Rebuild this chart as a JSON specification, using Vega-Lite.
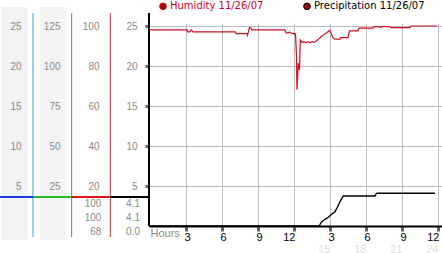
{
  "$schema": "https://vega.github.io/schema/vega-lite/v6.json",
  "autosize": {"type": "none"},
  "padding": {"left": 149, "top": 23, "right": 0, "bottom": 27},
  "width": 293,
  "height": 203,
  "config": {
    "view": {"stroke": null},
    "font": "Liberation Sans",
    "axis": {"labelFont": "Liberation Sans", "labelFontSize": 10, "labelColor": "#8a8a8a", "titleFont": "Liberation Sans"}
  },
  "datasets": {
    "humidity": [
      {"hour": 0, "rh": 98.1}, {"hour": 3.17, "rh": 98.1}, {"hour": 3.25, "rh": 97.1}, {"hour": 3.42, "rh": 97.1},
      {"hour": 3.54, "rh": 98.0}, {"hour": 3.67, "rh": 97.1}, {"hour": 7.17, "rh": 97.1}, {"hour": 7.25, "rh": 96.2},
      {"hour": 8.17, "rh": 96.2}, {"hour": 8.21, "rh": 95.4}, {"hour": 8.375, "rh": 99.2}, {"hour": 8.5, "rh": 99.0},
      {"hour": 8.58, "rh": 98.1}, {"hour": 11.31, "rh": 98.1}, {"hour": 11.42, "rh": 96.7}, {"hour": 11.58, "rh": 96.5},
      {"hour": 11.71, "rh": 97.0}, {"hour": 11.83, "rh": 96.5}, {"hour": 12.0, "rh": 96.2}, {"hour": 12.21, "rh": 96.2},
      {"hour": 12.29, "rh": 85.0}, {"hour": 12.33, "rh": 68.2}, {"hour": 12.39, "rh": 75.0}, {"hour": 12.44, "rh": 81.5},
      {"hour": 12.54, "rh": 78.0}, {"hour": 12.61, "rh": 93.0}, {"hour": 12.75, "rh": 91.8}, {"hour": 12.92, "rh": 92.2},
      {"hour": 13.08, "rh": 91.6}, {"hour": 13.25, "rh": 92.2}, {"hour": 13.42, "rh": 91.6}, {"hour": 13.58, "rh": 92.2},
      {"hour": 13.75, "rh": 91.8}, {"hour": 13.92, "rh": 92.4}, {"hour": 14.08, "rh": 93.2}, {"hour": 14.33, "rh": 94.5},
      {"hour": 14.58, "rh": 95.8}, {"hour": 14.83, "rh": 96.8}, {"hour": 15.04, "rh": 97.8}, {"hour": 15.17, "rh": 96.6},
      {"hour": 15.33, "rh": 94.2}, {"hour": 15.5, "rh": 93.4}, {"hour": 15.92, "rh": 93.4}, {"hour": 16.0, "rh": 94.2},
      {"hour": 16.58, "rh": 94.2}, {"hour": 16.71, "rh": 97.6}, {"hour": 17.42, "rh": 97.6}, {"hour": 17.5, "rh": 98.9},
      {"hour": 18.67, "rh": 98.9}, {"hour": 18.75, "rh": 99.7}, {"hour": 19.17, "rh": 99.7}, {"hour": 19.29, "rh": 99.2},
      {"hour": 19.42, "rh": 99.7}, {"hour": 20.08, "rh": 99.7}, {"hour": 20.17, "rh": 99.2}, {"hour": 21.75, "rh": 99.2},
      {"hour": 21.83, "rh": 100}, {"hour": 24.0, "rh": 100}
    ],
    "precip": [
      {"hour": 0, "mm": 0}, {"hour": 14.17, "mm": 0}, {"hour": 14.39, "mm": 0.54}, {"hour": 14.67, "mm": 0.84},
      {"hour": 14.94, "mm": 1.09}, {"hour": 15.22, "mm": 1.46}, {"hour": 15.5, "mm": 1.79}, {"hour": 15.72, "mm": 2.41},
      {"hour": 15.92, "mm": 3.04}, {"hour": 16.19, "mm": 3.75}, {"hour": 18.83, "mm": 3.75}, {"hour": 18.97, "mm": 4.1},
      {"hour": 23.83, "mm": 4.1}
    ],
    "cols": [
      {"col": 1, "series": "col1"}, {"col": 2, "series": "col2"},
      {"col": 3, "series": "Humidity"}, {"col": 4, "series": "Precipitation"}
    ],
    "summary": [
      {"col": 3, "lines": ["100", "100", "68"]},
      {"col": 4, "lines": ["4.1", "4.1", "0.0"]}
    ]
  },
  "resolve": {"scale": {"x": "independent", "y": "independent", "stroke": "independent"}},
  "layer": [
    {
      "data": {"name": "cols"},
      "transform": [{"filter": "datum.col <= 2"}],
      "mark": {"type": "rect", "color": "#f3f3f3", "xOffset": -31.5, "x2Offset": -5.5},
      "encoding": {
        "x": {"field": "col", "type": "quantitative", "scale": {"domain": [4, 11.577], "nice": false, "zero": false}, "axis": null},
        "x2": {"field": "col"},
        "y": {"datum": -1.75, "type": "quantitative", "scale": {"domain": [0, 25.375], "nice": false, "zero": false},
          "axis": {"orient": "left", "offset": 116, "values": [5, 10, 15, 20, 25], "domain": false, "ticks": false, "tickSize": 0, "labelPadding": 12, "grid": false, "title": null, "zindex": 1}},
        "y2": {"datum": 27.375}
      }
    },
    {
      "data": {"name": "cols"},
      "transform": [{"filter": "datum.col <= 3"}],
      "mark": {"type": "rule", "strokeWidth": 1},
      "encoding": {
        "x": {"field": "col", "type": "quantitative", "scale": {"domain": [4, 11.577], "nice": false, "zero": false}, "axis": null},
        "y": {"datum": -1.375, "type": "quantitative", "scale": {"domain": [0, 25.375], "nice": false, "zero": false},
          "axis": {"orient": "left", "offset": 77, "values": [5, 10, 15, 20, 25], "labelExpr": "datum.value * 5", "domain": false, "ticks": false, "tickSize": 0, "labelPadding": 12, "grid": false, "title": null, "zindex": 1}},
        "y2": {"datum": 26.625},
        "stroke": {"field": "series", "type": "nominal", "scale": {"domain": ["col1", "col2", "Humidity"], "range": ["#3c9fd2", "#2fa82f", "#c23636"]}, "legend": null}
      }
    },
    {
      "data": {"name": "cols"},
      "transform": [{"filter": "datum.col == 4"}],
      "mark": {"type": "rule", "strokeWidth": 2, "color": "#000000"},
      "encoding": {
        "x": {"field": "col", "type": "quantitative", "scale": {"domain": [4, 11.577], "nice": false, "zero": false}, "axis": null},
        "y": {"datum": 0, "type": "quantitative", "scale": {"domain": [0, 25.375], "nice": false, "zero": false}, "axis": null},
        "y2": {"datum": 26.625}
      }
    },
    {
      "data": {"name": "cols"},
      "mark": {"type": "rule", "strokeWidth": 2, "xOffset": -38.67, "x2Offset": 0},
      "encoding": {
        "x": {"field": "col", "type": "quantitative", "scale": {"domain": [4, 11.577], "nice": false, "zero": false}, "axis": null},
        "x2": {"field": "col"},
        "y": {"datum": 3.625, "type": "quantitative", "scale": {"domain": [0, 25.375], "nice": false, "zero": false}, "axis": null},
        "stroke": {"field": "series", "type": "nominal", "scale": {"domain": ["col1", "col2", "Humidity", "Precipitation"], "range": ["#1a3de6", "#22bb22", "#e01414", "#000000"]}, "legend": null}
      }
    },
    {
      "data": {"name": "summary"},
      "mark": {"type": "text", "align": "right", "baseline": "top", "xOffset": -9, "lineHeight": 14, "fontSize": 10, "font": "Liberation Sans", "color": "#8a8a8a"},
      "encoding": {
        "x": {"field": "col", "type": "quantitative", "scale": {"domain": [4, 11.577], "nice": false, "zero": false}, "axis": null},
        "y": {"datum": 3.375, "type": "quantitative", "scale": {"domain": [0, 25.375], "nice": false, "zero": false}, "axis": null},
        "text": {"field": "lines", "type": "nominal"}
      }
    },
    {
      "data": {"name": "humidity"},
      "mark": {"type": "line", "strokeWidth": 1.2, "interpolate": "linear"},
      "encoding": {
        "x": {"field": "hour", "type": "quantitative", "scale": {"domain": [0, 24.4167], "nice": false, "zero": false},
          "axis": {"orient": "bottom", "values": [15, 18, 21, 24], "domain": false, "ticks": false, "grid": false, "labelColor": "#dedede", "labelFontSize": 11, "labelPadding": 17, "labelAlign": "right", "labelOffset": 1, "title": null}},
        "y": {"field": "rh", "type": "quantitative", "scale": {"domain": [0, 101.5], "nice": false, "zero": false},
          "axis": {"orient": "left", "offset": 38, "values": [20, 40, 60, 80, 100], "domain": false, "ticks": false, "tickSize": 0, "labelPadding": 12, "grid": false, "title": null, "zindex": 1}},
        "color": {"datum": "Humidity 11/26/07", "type": "nominal",
          "scale": {"domain": ["Humidity 11/26/07", "Precipitation 11/26/07"], "range": ["#cc1020", "#000000"]},
          "legend": {"orient": "none", "legendX": 9, "legendY": -22, "direction": "horizontal", "title": null, "padding": 0,
            "symbolType": "circle", "symbolSize": 45, "symbolFillColor": "#a00000", "symbolStrokeColor": "#600000", "symbolStrokeWidth": 1,
            "labelFont": "DejaVu Sans", "labelFontSize": 10, "labelOffset": 2, "columnPadding": 37, "labelLimit": 300,
            "labelColor": {"expr": "datum.label == 'Humidity 11/26/07' ? '#cc0022' : '#000000'"}}}
      }
    },
    {
      "data": {"name": "precip"},
      "mark": {"type": "line", "strokeWidth": 1.4, "interpolate": "linear"},
      "encoding": {
        "x": {"field": "hour", "type": "quantitative", "scale": {"domain": [0, 24.4167], "nice": false, "zero": false},
          "axis": {"orient": "bottom", "values": [3, 6, 9, 12, 15, 18, 21, 24],
            "labelExpr": "datum.value % 12 == 0 ? '12' : '' + (datum.value % 12)",
            "labelAlign": {"expr": "datum.value % 12 == 0 ? 'right' : 'center'"},
            "labelOffset": {"expr": "datum.value % 12 == 0 ? 1 : 1"},
            "grid": true, "gridColor": "#bbbbbb", "gridWidth": 1,
            "domain": true, "domainColor": "#000000", "domainWidth": 2,
            "ticks": true, "tickColor": "#666666", "tickSize": 5, "tickWidth": 3, "tickOffset": 1,
            "labelColor": "#000000", "labelFontSize": 11, "labelPadding": 0,
            "title": "Hours", "titleX": 1, "titleY": 10, "titleAlign": "left", "titleBaseline": "alphabetic",
            "titleColor": "#8a8a8a", "titleFontSize": 11, "titleFontWeight": "normal"}},
        "y": {"field": "mm", "type": "quantitative", "scale": {"domain": [0, 25.375], "nice": false, "zero": false},
          "axis": {"orient": "left", "offset": 0, "values": [5, 10, 15, 20, 25],
            "grid": true, "gridColor": "#bbbbbb", "gridWidth": 1, "domain": false,
            "ticks": true, "tickColor": "#666666", "tickSize": 4, "tickWidth": 3,
            "labelPadding": 8, "title": null}},
        "color": {"datum": "Precipitation 11/26/07", "type": "nominal"}
      }
    }
  ]
}
